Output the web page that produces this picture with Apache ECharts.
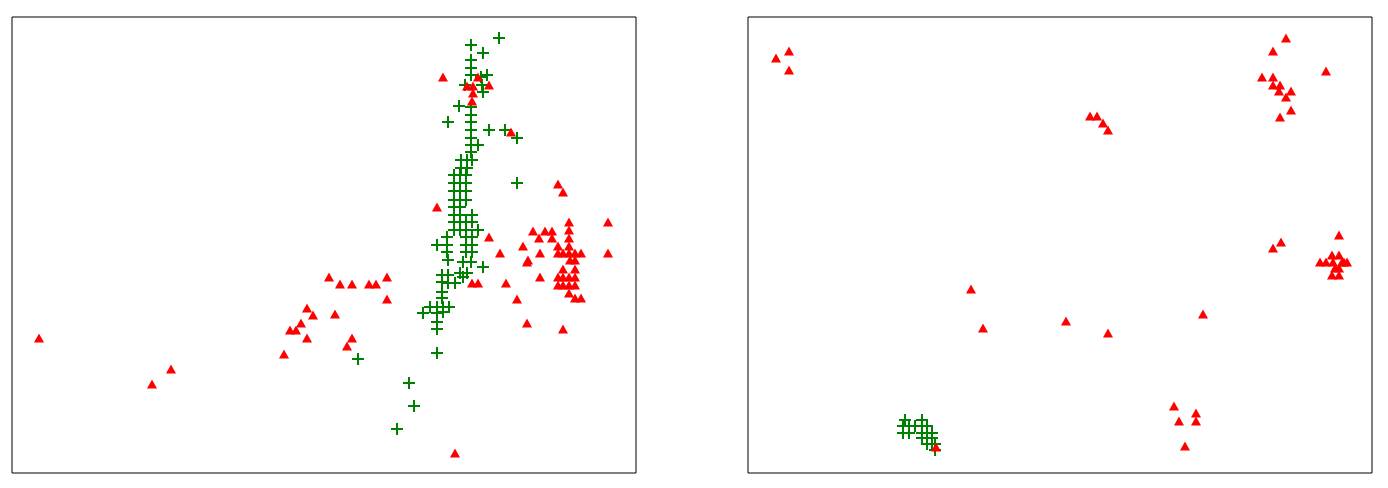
<!DOCTYPE html>
<html>
<head>
<meta charset="utf-8">
<style>
html, body { margin: 0; padding: 0; background: #fff; }
#chart { width: 1388px; height: 488px; }
</style>
<script src="https://cdn.jsdelivr.net/npm/echarts@6/dist/echarts.min.js"></script>
</head>
<body>
<div id="chart"></div>
<script>
// left panel: red triangles and green pluses
var leftRed = [
    [39,338],[152,384],[171,369],
    [284,354],[290,330],[296,330],[301,323],[307,308],[313,315],[307,338],[329,277],[340,284],[352,284],
    [335,314],[347,346],[352,338],[369,284],[376,284],[387,277],[387,299],
    [443,77],[478,77],[467,86],[473,86],[489,85],[473,93],[472,101],[511,132],
    [437,207],[455,453],
    [489,237],[500,253],[523,246],[472,283],[478,283],[506,283],[517,299],[527,262],[527,323],
    [558,184],[563,192],[569,222],[608,222],[533,231],[545,231],[552,231],[539,238],[552,238],[569,230],
    [569,238],[558,246],[569,246],[540,253],[558,253],[563,253],[569,253],[575,253],[581,253],[608,253],
    [528,260],[570,260],[575,260],[563,269],[575,269],[540,277],[558,277],[563,277],[569,277],[575,277],
    [558,285],[563,285],[569,285],[575,285],[569,293],[575,298],[581,298],[563,329]
];
var leftGreen = [
    [499,38],[471,45],[483,53],[471,60],[471,68],[471,75],[487,75],[481,77],[465,85],[482,85],[483,92],
    [459,106],[471,107],[471,115],[448,122],[471,122],[489,130],[471,130],[505,130],[517,138],[471,138],
    [478,145],[471,145],[471,152],
    [461,160],[467,160],[472,160],[461,168],[467,168],
    [454,175],[460,175],[466,175],[454,183],[460,183],[466,183],
    [454,191],[460,191],[466,191],[454,200],[460,200],[466,200],
    [454,207],[460,207],[454,215],[460,215],[472,215],
    [454,222],[460,222],[466,222],[472,222],[454,230],[460,230],[466,230],[478,230],
    [447,237],[466,237],[472,237],[437,245],[447,245],[466,245],[472,245],
    [447,252],[466,252],[472,252],[517,183],
    [448,260],[463,262],[471,262],[483,267],[442,275],[448,275],[460,273],[467,273],
    [442,282],[448,283],[455,283],[463,277],[442,292],[442,298],
    [430,307],[437,307],[443,307],[449,307],[423,313],[437,313],[443,312],[437,322],[437,329],[437,353],
    [409,383],[414,406],[397,429],[358,359]
];
// right panel
var rightRed = [
    [776,58],[789,51],[789,70],
    [1090,116],[1097,116],[1103,123],[1108,130],
    [1286,38],[1273,51],[1326,71],[1262,77],[1273,77],[1273,85],[1280,85],[1279,91],[1291,91],
    [1286,97],[1291,110],[1280,117],
    [971,289],[983,328],[1066,321],[1108,333],[1203,314],
    [1273,248],[1281,242],
    [1339,235],[1320,262],[1326,262],[1332,255],[1339,255],[1333,262],[1342,262],[1347,262],
    [1335,268],[1339,268],[1332,275],[1339,275],[1344,262],
    [1174,406],[1179,421],[1196,413],[1196,421],[1185,446],
    [936,447]
];
var rightGreen = [
    [905,420],[922,420],
    [903,426],[909,426],[915,426],[922,426],[927,426],
    [903,433],[909,433],[922,433],[927,433],[932,433],
    [922,438],[927,438],[932,438],
    [927,444],[932,444],[935,444],
    [935,450]
];
var xRanges = [[12, 636], [748, 1372]];
var yRange = [17, 473];

var plus = 'path://M5,0H7V5H12V7H7V12H5V7H0V5H5Z';

function hiddenAxis(idx, range, inverse) {
    return {
        type: 'value', gridIndex: idx, min: range[0], max: range[1], inverse: inverse,
        axisLine: {show: false}, axisTick: {show: false},
        axisLabel: {show: false}, splitLine: {show: false}
    };
}
function greenSeries(idx, data) {
    return {
        type: 'scatter', xAxisIndex: idx, yAxisIndex: idx, data: data,
        symbol: plus, symbolSize: 12, itemStyle: {color: '#008000', opacity: 1}, silent: true
    };
}
function redSeries(idx, data) {
    return {
        type: 'scatter', xAxisIndex: idx, yAxisIndex: idx, data: data,
        symbol: 'triangle', symbolSize: [10, 9], itemStyle: {color: '#ff0000', opacity: 1}, silent: true
    };
}

var chart = echarts.init(document.getElementById('chart'));
chart.setOption({
    animation: false,
    grid: [
        {left: 12, top: 17, width: 624, height: 456, show: true, borderColor: '#000', borderWidth: 1, backgroundColor: '#fff'},
        {left: 748, top: 17, width: 624, height: 456, show: true, borderColor: '#000', borderWidth: 1, backgroundColor: '#fff'}
    ],
    xAxis: [hiddenAxis(0, xRanges[0], false), hiddenAxis(1, xRanges[1], false)],
    yAxis: [hiddenAxis(0, yRange, true), hiddenAxis(1, yRange, true)],
    series: [
        greenSeries(0, leftGreen), redSeries(0, leftRed),
        greenSeries(1, rightGreen), redSeries(1, rightRed)
    ]
});
</script>
</body>
</html>
